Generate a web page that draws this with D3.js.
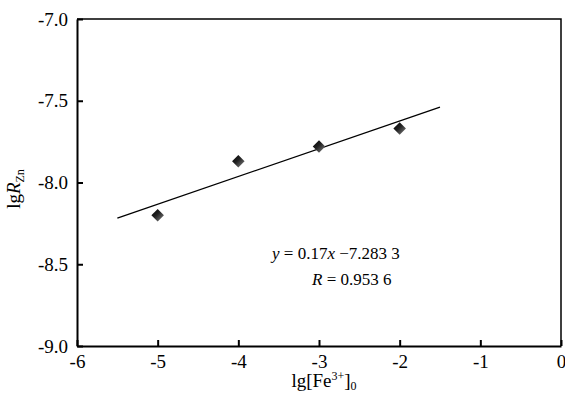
<!DOCTYPE html>
<html>
<head>
<meta charset="utf-8">
<script src="https://cdn.jsdelivr.net/npm/d3@7"></script>
<style>
  html, body { margin: 0; padding: 0; background: #fff; }
  svg { display: block; }
</style>
</head>
<body>
<svg id="chart" width="565" height="403"></svg>
<script>
// lg[Fe3+]0 against lg R_Zn, with its linear fit
const xValues = [-5, -4, -3, -2];
const yValues = [-8.20, -7.87, -7.78, -7.67];
const fitSlope = 0.17;
const fitIntercept = -7.2833;
const fitRange = [-5.5, -1.5];
const xTicks = [-6, -5, -4, -3, -2, -1, 0];
const yTicks = [-7.0, -7.5, -8.0, -8.5, -9.0];

const SERIF = '"Liberation Serif", "Times New Roman", Times, serif';
const width = 565, height = 403;
const margin = { top: 19, right: 4, bottom: 57, left: 77 };

const svg = d3.select("#chart");
const x = d3.scaleLinear().domain([-6, 0]).range([margin.left, width - margin.right]);
const y = d3.scaleLinear().domain([-9, -7]).range([height - margin.bottom, margin.top]);

// shading for the diamond markers
const defs = svg.append("defs");
const grad = defs.append("linearGradient").attr("id", "diamondFill")
  .attr("x1", "0%").attr("y1", "0%").attr("x2", "100%").attr("y2", "100%");
grad.append("stop").attr("offset", "0%").attr("stop-color", "#000");
grad.append("stop").attr("offset", "45%").attr("stop-color", "#222");
grad.append("stop").attr("offset", "100%").attr("stop-color", "#8a8a8a");

// frame: top and right edges
svg.append("path")
  .attr("d", `M${x(-6)},${y(-7)}H${x(0)}V${y(-9)}`)
  .attr("fill", "none").attr("stroke", "#000").attr("stroke-width", 1.5);

// bottom axis, ticks pointing inward
const xAxis = svg.append("g")
  .attr("transform", `translate(0,${y(-9)})`)
  .attr("font-family", SERIF)
  .call(d3.axisBottom(x).tickValues(xTicks).tickSizeInner(-6).tickSizeOuter(0)
    .tickPadding(10).tickFormat(d => d < 0 ? "-" + Math.abs(d) : String(d)));
xAxis.attr("font-family", SERIF);
xAxis.select(".domain").attr("stroke-width", 2);
xAxis.selectAll(".tick line").attr("stroke-width", 2);
xAxis.selectAll(".tick text").style("font-family", SERIF).style("font-size", "19px")
  .attr("dy", "0.62em");

// left axis, ticks pointing inward
const yAxis = svg.append("g")
  .attr("transform", `translate(${x(-6)},0)`)
  .call(d3.axisLeft(y).tickValues(yTicks).tickSizeInner(-6).tickSizeOuter(0)
    .tickPadding(9).tickFormat(d => "-" + Math.abs(d).toFixed(1)));
yAxis.attr("font-family", SERIF);
yAxis.select(".domain").attr("stroke-width", 2);
yAxis.selectAll(".tick line").attr("stroke-width", 2);
yAxis.selectAll(".tick text").style("font-family", SERIF).style("font-size", "19px");

// fitted line
svg.append("line")
  .attr("x1", x(fitRange[0])).attr("y1", y(fitSlope * fitRange[0] + fitIntercept))
  .attr("x2", x(fitRange[1])).attr("y2", y(fitSlope * fitRange[1] + fitIntercept))
  .attr("stroke", "#000").attr("stroke-width", 1.3);

// measured points
const diamond = d3.symbol().type(d3.symbolDiamond2).size(100);
svg.append("g").selectAll("path")
  .data(xValues.map((v, i) => [v, yValues[i]]))
  .join("path")
  .attr("d", diamond)
  .attr("transform", d => `translate(${x(d[0])},${y(d[1])})`)
  .attr("fill", "url(#diamondFill)");

// fit equation
const eq = svg.append("text").attr("x", 272).attr("y", 259)
  .style("font-family", SERIF).style("font-size", "17px");
eq.append("tspan").attr("font-style", "italic").text("y");
eq.append("tspan").text(" = 0.17");
eq.append("tspan").attr("font-style", "italic").text("x");
eq.append("tspan").text(" \u22127.283 3");

const rq = svg.append("text").attr("x", 312).attr("y", 285)
  .style("font-family", SERIF).style("font-size", "17px");
rq.append("tspan").attr("font-style", "italic").text("R");
rq.append("tspan").text(" = 0.953 6");

// axis titles
const xt = svg.append("text").attr("x", 324).attr("y", 387)
  .attr("text-anchor", "middle").style("font-family", SERIF).style("font-size", "19px");
xt.append("tspan").text("lg[Fe");
xt.append("tspan").style("font-size", "12px").attr("dy", -7).text("3+");
xt.append("tspan").attr("dy", 7).text("]");
xt.append("tspan").style("font-size", "12px").attr("dy", 3).text("0");

const yt = svg.append("text")
  .attr("transform", `translate(20,189) rotate(-90)`)
  .attr("text-anchor", "middle").style("font-family", SERIF).style("font-size", "19px");
yt.append("tspan").text("lg");
yt.append("tspan").attr("font-style", "italic").text("R");
yt.append("tspan").style("font-size", "12px").attr("dy", 4).text("Zn");
</script>
</body>
</html>
